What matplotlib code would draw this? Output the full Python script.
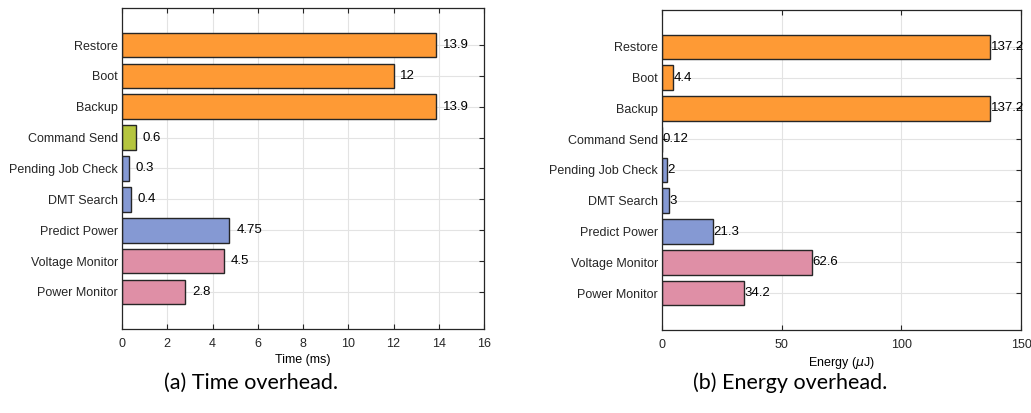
import matplotlib.pyplot as plt
import numpy as np

plt.rcParams['font.family'] = ['Liberation Sans', 'DejaVu Sans']

labels = ['Power Monitor', 'Voltage Monitor', 'Predict Power', 'DMT Search',
          'Pending Job Check', 'Command Send', 'Backup', 'Boot', 'Restore']
time_ms = [2.8, 4.5, 4.75, 0.4, 0.3, 0.6, 13.9, 12, 13.9]
time_txt = ['2.8', '4.5', '4.75', '0.4', '0.3', '0.6', '13.9', '12', '13.9']
energy_uj = [34.2, 62.6, 21.3, 3, 2, 0.12, 137.2, 4.4, 137.2]
energy_txt = ['34.2', '62.6', '21.3', '3', '2', '0.12', '137.2', '4.4', '137.2']

pink = '#df8fa6'
blue = '#8599d3'
green = '#b5c53e'
orange = '#fe9a35'
colors = [pink, pink, blue, blue, blue, green, orange, orange, orange]

fig = plt.figure(figsize=(10.31, 4.13), dpi=100)
ax1 = fig.add_axes([122 / 1031, 1 - 329 / 413, 362 / 1031, 321 / 413])
ax2 = fig.add_axes([662 / 1031, 1 - 330 / 413, 359 / 1031, 320 / 413])


def draw(ax, vals, txt, xmax, xticks, xlabel, gap):
    y = np.arange(len(labels))
    ax.set_axisbelow(True)
    ax.grid(True, color='#e3e3e3', linewidth=0.8)
    ax.barh(y, vals, height=0.8, color=colors, edgecolor='#262626', linewidth=1.0)
    for yi, v, t in zip(y, vals, txt):
        ax.annotate(t, (v, yi), xytext=(gap, 0), textcoords='offset points',
                    va='center', ha='left', fontsize=9.5, clip_on=False)
    ax.set_xlim(0, xmax)
    ax.set_ylim(-1.2, 9.2)
    ax.set_xticks(xticks)
    ax.set_yticks(y)
    ax.set_yticklabels(labels)
    ax.set_xlabel(xlabel, fontsize=9, labelpad=3)
    ax.tick_params(direction='in', length=3.5, width=0.8, top=True, right=True,
                   labelsize=9, colors='#262626')
    ax.tick_params(axis='y', pad=3)
    ax.tick_params(axis='x', pad=6.5)
    for s in ax.spines.values():
        s.set_color('#262626')
        s.set_linewidth(0.9)


draw(ax1, time_ms, time_txt, 16, range(0, 17, 2), 'Time (ms)', 5)
draw(ax2, energy_uj, energy_txt, 150, [0, 50, 100, 150], r'Energy ($\mu$J)', 0.5)

fig.text(251 / 1031, 1 - 383 / 413, '(a) Time overhead.', ha='center', va='center',
         fontsize=15.5, family=['Lato', 'DejaVu Sans'])
fig.text(790 / 1031, 1 - 383 / 413, '(b) Energy overhead.', ha='center', va='center',
         fontsize=15.5, family=['Lato', 'DejaVu Sans'])

fig.savefig('out.png', dpi=100)
